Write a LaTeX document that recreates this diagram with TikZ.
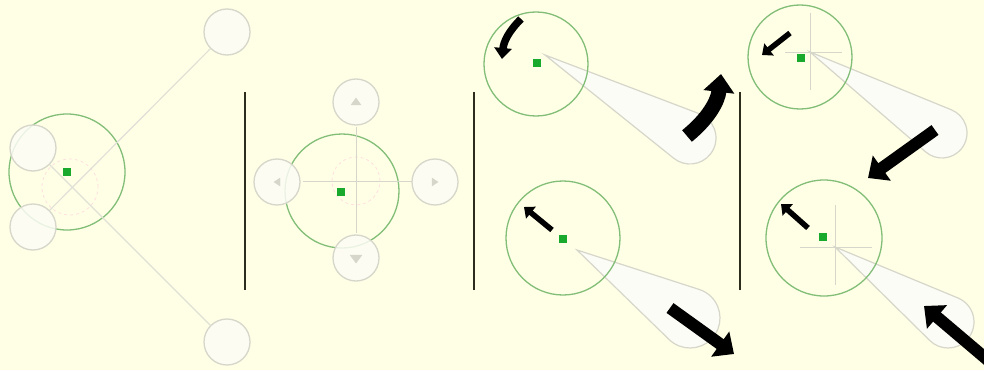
\documentclass[tikz,border=0pt]{standalone}
\usetikzlibrary{arrows.meta,calc}

\definecolor{paper}{RGB}{255,255,230}
\definecolor{ringgreen}{RGB}{130,190,120}
\definecolor{dotgreen}{RGB}{25,170,45}
\definecolor{ghost}{RGB}{214,214,202}
\definecolor{ghostfill}{RGB}{252,252,246}
\definecolor{bar}{RGB}{45,45,30}

% cone from an apex to a rounded end: apex, end centre, end radius
\newcommand\pointer[3]{%
  \draw[cone] let \p1=($(#1)-(#2)$), \n1={atan2(\y1,\x1)},
    \n2={acos(#3/veclen(\x1,\y1))} in
    (#1) -- ($(#2)+(\n1+\n2:#3pt)$)
    arc[start angle=\n1+\n2, end angle=\n1-\n2+360, radius=#3pt] -- cycle;}

\begin{document}
\begin{tikzpicture}[x=1pt, y=1pt,
  ring/.style={circle, draw=ringgreen, line width=1.3pt, inner sep=0pt},
  dot/.style={fill=dotgreen, minimum size=8pt, inner sep=0pt},
  knob/.style={circle, draw=ghost, fill=ghostfill, fill opacity=.85,
               line width=1.3pt, minimum size=46pt, inner sep=0pt},
  wire/.style={draw=ghost!75, line width=1.2pt},
  cross/.style={draw=ghost, line width=.8pt},
  faint/.style={draw=red!12, dashed, line width=.8pt},
  glyph/.style={fill=ghost, draw=ghost},
  divider/.style={draw=bar, line width=2pt},
  cone/.style={draw=ghost, fill=ghostfill, line width=1.2pt},
  nudge/.style={-{Triangle[length=9pt,width=15pt]}, line width=5.5pt, black},
  twirl/.style={-{Triangle[length=11pt,width=17pt]}, line width=7.5pt, black},
  push/.style={-{Triangle[length=17pt,width=30pt]}, line width=12pt, black},
  swing/.style={-{Triangle[length=18pt,width=30pt]}, line width=15pt, black}
]
\fill[paper] (0,0) rectangle (984,370);
\useasboundingbox (0,0) rectangle (984,370);

% panel 1
\node[ring, minimum size=116pt] (ringA) at (67,198) {};
\draw[faint] (70,183) circle (28);
\node[dot] (dotA) at (67,198) {};
\node[knob] (knobNE) at (227,338) {};
\node[knob] (knobSW) at (33,143) {};
\node[knob] (knobNW) at (33,222) {};
\node[knob] (knobSE) at (227,28) {};
\draw[wire] (knobNE) -- (knobSW);
\draw[wire] (knobNW) -- (knobSE);

\draw[divider] (245,80) -- (245,278);

% panel 2
\node[ring, minimum size=114pt] (ringB) at (342,179) {};
\draw[faint] (356,189) circle (24);
\draw[cross] (356,243) -- (356,137);
\draw[cross] (303,189) -- (412,189);
\node[dot] (dotB) at (341,178) {};
\node[knob] (knobUp) at (356,268) {};
\node[knob] (knobLeft) at (277,188) {};
\node[knob] (knobRight) at (435,188) {};
\node[knob] (knobDown) at (356,112) {};
\draw[glyph] ([shift={(-5,-3)}]knobUp.center) -- ([shift={(0,4)}]knobUp.center)
  -- ([shift={(5,-3)}]knobUp.center) -- cycle;
\draw[glyph] ([shift={(3,-4)}]knobLeft.center) -- ([shift={(-3,0)}]knobLeft.center)
  -- ([shift={(3,4)}]knobLeft.center) -- cycle;
\draw[glyph] ([shift={(-3,-4)}]knobRight.center) -- ([shift={(3,0)}]knobRight.center)
  -- ([shift={(-3,4)}]knobRight.center) -- cycle;
\draw[glyph] ([shift={(-6,3)}]knobDown.center) -- ([shift={(0,-5)}]knobDown.center)
  -- ([shift={(6,3)}]knobDown.center) -- cycle;

\draw[divider] (474,80) -- (474,278);

% panel 3, rotate
\pointer{545,315}{690,232}{26}
\node[ring, minimum size=104pt] (ringC) at (536,306) {};
\node[dot] (dotC) at (537,307) {};
\coordinate (turnA) at (521,351);
\coordinate (turnB) at (502,311);
\draw[twirl] (turnA) to[bend right=20] (turnB);
\coordinate (swingA) at (687,234);
\coordinate (swingB) at (721,296);
\draw[swing] (swingA) to[bend right=22] (swingB);

% panel 3, stretch
\pointer{577,120}{690,52}{30}
\node[ring, minimum size=114pt] (ringD) at (563,132) {};
\node[dot] (dotD) at (563,131) {};
\coordinate (slideA) at (552,140);
\coordinate (slideB) at (524,163);
\draw[nudge] (slideA) -- (slideB);
\coordinate (pullA) at (670,62);
\coordinate (pullB) at (734,16);
\draw[push] (pullA) -- (pullB);

\draw[divider] (740,80) -- (740,278);

% panel 4, shrink
\pointer{810,318}{942,237}{25}
\draw[cross] (810,357) -- (810,280);
\draw[cross] (785,318) -- (842,318);
\node[ring, minimum size=104pt] (ringE) at (800,313) {};
\node[dot] (dotE) at (801,312) {};
\coordinate (moveA) at (790,337);
\coordinate (moveB) at (762,315);
\draw[nudge] (moveA) -- (moveB);
\coordinate (pressA) at (935,240);
\coordinate (pressB) at (868,192);
\draw[push] (pressA) -- (pressB);

% panel 4, grow
\pointer{835,123}{948,48}{26}
\draw[cross] (835,165) -- (835,85);
\draw[cross] (800,123) -- (872,123);
\node[ring, minimum size=116pt] (ringF) at (824,132) {};
\node[dot] (dotF) at (823,133) {};
\coordinate (shiftA) at (808,142);
\coordinate (shiftB) at (781,166);
\draw[nudge] (shiftA) -- (shiftB);
\coordinate (driveA) at (990,8);
\coordinate (driveB) at (924,64);
\draw[push] (driveA) -- (driveB);
\end{tikzpicture}
\end{document}
